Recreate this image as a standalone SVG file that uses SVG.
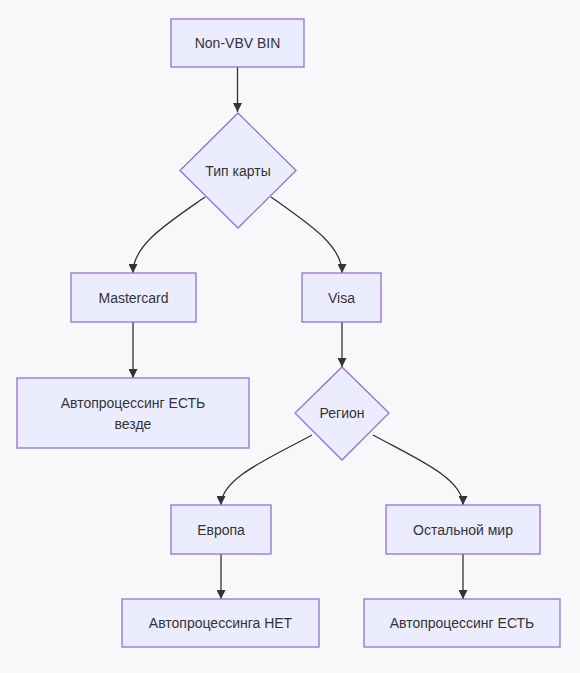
<svg xmlns="http://www.w3.org/2000/svg" width="580" height="673" viewBox="0 0 580 673">
<style>
.bg{fill:#f8f8fa}
.n{fill:#ECECFF;stroke:#9370DB;stroke-width:1.3}
.t{font-family:"Liberation Sans",Arial,sans-serif;font-size:14px;fill:#333;text-anchor:middle;dominant-baseline:central}
.e{fill:none;stroke:#333;stroke-width:1.3}
</style>
<defs>
<marker id="arr" viewBox="0 0 10 10" refX="10" refY="5" markerWidth="9" markerHeight="9" markerUnits="userSpaceOnUse" orient="auto">
<path d="M0,0 L10,5 L0,10 z" fill="#333"/>
</marker>
</defs>
<rect class="bg" x="0" y="0" width="580" height="673"/>
<g id="edges">
<path class="e" d="M237.5,67 L237.5,112" marker-end="url(#arr)"/>
<path class="e" d="M205,197 C165,225 133,245 133,273" marker-end="url(#arr)"/>
<path class="e" d="M271,197 C310,225 342,245 342,273" marker-end="url(#arr)"/>
<path class="e" d="M133,322 L133,378" marker-end="url(#arr)"/>
<path class="e" d="M342,322 L342,367" marker-end="url(#arr)"/>
<path class="e" d="M312,435 C270,458 221,478 221,505" marker-end="url(#arr)"/>
<path class="e" d="M373,435 C415,458 463,478 463,505" marker-end="url(#arr)"/>
<path class="e" d="M221,554 L221,599" marker-end="url(#arr)"/>
<path class="e" d="M463,554 L463,599" marker-end="url(#arr)"/>
</g>
<g id="nonvbv"><rect class="n" x="171" y="19" width="133" height="48"/><text class="t" x="237.5" y="43">Non-VBV BIN</text></g>
<g id="type"><polygon class="n" points="238,113 296,170.5 238,228 180,170.5"/><text class="t" x="238" y="170.5">Тип карты</text></g>
<g id="mastercard"><rect class="n" x="71" y="273" width="125" height="49"/><text class="t" x="133.5" y="297.5">Mastercard</text></g>
<g id="visa"><rect class="n" x="302" y="273" width="79" height="49"/><text class="t" x="341.5" y="297.5">Visa</text></g>
<g id="mc_yes"><rect class="n" x="17" y="378" width="232" height="70"/><text class="t" x="133" y="403">Автопроцессинг ЕСТЬ</text><text class="t" x="133" y="424">везде</text></g>
<g id="region"><polygon class="n" points="342,367 389,413 342,460 295,413"/><text class="t" x="342" y="413">Регион</text></g>
<g id="europe"><rect class="n" x="171" y="505" width="100" height="49"/><text class="t" x="221" y="529.5">Европа</text></g>
<g id="rest"><rect class="n" x="386" y="505" width="154" height="49"/><text class="t" x="463" y="529.5">Остальной мир</text></g>
<g id="eu_no"><rect class="n" x="122" y="599" width="197" height="48"/><text class="t" x="220.5" y="623">Автопроцессинга НЕТ</text></g>
<g id="rest_yes"><rect class="n" x="364" y="599" width="196" height="48"/><text class="t" x="462" y="623">Автопроцессинг ЕСТЬ</text></g>
</svg>
